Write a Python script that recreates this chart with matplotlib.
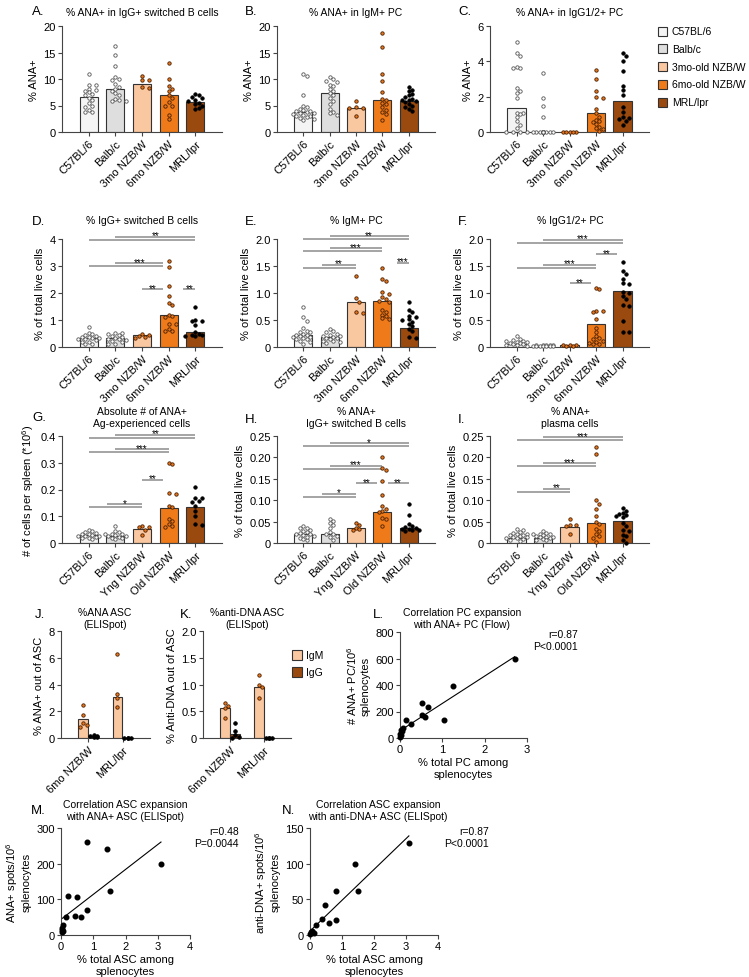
import numpy as np
import matplotlib
matplotlib.use("Agg")
import matplotlib.pyplot as plt
from matplotlib.patches import Rectangle

plt.rcParams['font.family'] = ['Liberation Sans', 'DejaVu Sans']
plt.rcParams['mathtext.default'] = 'regular'
plt.rcParams['font.size'] = 8

W, H = 749, 978

# ---- categories / labels
strains = ["C57BL/6", "Balb/c", "3mo NZB/W", "6mo NZB/W", "MRL/lpr"]
strains_age = ["C57BL/6", "Balb/c", "Yng NZB/W", "Old NZB/W", "MRL/lpr"]
legend_labels = ["C57BL/6", "Balb/c", "3mo-old NZB/W", "6mo-old NZB/W", "MRL/lpr"]
elispot_groups = ["6mo NZB/W", "MRL/lpr"]

bar_colors = ["#f4f4f4", "#dedede", "#f9c7a0", "#ef7a1a", "#9a4a0e"]
pt_face = ["white", "white", "#e8761e", "#e8761e", "black"]
pt_edge = ["#555555", "#555555", "#4a2000", "#4a2000", "black"]

# ---- A: % ANA+ in IgG+ switched B cells
a_bars = [6.6, 8.2, 9.0, 6.9, 5.7]
a_pts = [[10.9, 8.9, 8.8, 8.2, 8.0, 7.8, 7.5, 7.2, 6.9, 6.5, 6.0, 5.5, 5.0, 4.8, 4.1, 3.8, 3.7],
         [16.2, 14.6, 12.4, 10.3, 10.0, 9.8, 9.0, 8.4, 8.1, 7.8, 7.3, 6.9, 6.3, 6.0, 5.8, 5.9],
         [10.6, 9.9, 9.8, 8.4, 8.3],
         [13.0, 10.0, 8.6, 8.1, 7.8, 6.9, 6.4, 5.6, 5.0, 4.9, 3.2, 2.5],
         [7.2, 6.9, 6.6, 6.4, 6.0, 5.8, 5.5, 5.2, 5.0, 4.6, 4.3]]

# ---- B: % ANA+ in IgM+ PC
b_bars = [3.8, 7.4, 4.6, 6.1, 5.8]
b_pts = [[10.9, 10.5, 6.9, 5.0, 4.7, 4.4, 4.1, 3.9, 3.8, 3.6, 3.4, 3.3, 3.1, 3.0, 2.8, 2.5, 2.2, 2.6, 3.5, 4.0],
         [10.3, 10.0, 9.7, 9.5, 8.9, 8.6, 8.1, 7.8, 7.4, 7.0, 6.4, 5.9, 5.3, 4.4, 3.8, 3.5, 3.3],
         [5.9, 4.7, 4.6, 4.5, 3.0],
         [18.6, 16.1, 11.0, 9.6, 7.6, 6.3, 6.0, 5.5, 5.2, 4.7, 4.2, 3.8, 3.4, 2.2],
         [8.4, 8.0, 7.7, 7.2, 6.9, 6.6, 6.3, 6.0, 5.6, 5.3, 5.0, 4.7, 4.4, 3.9, 5.8, 6.1]]

# ---- C: % ANA+ in IgG1/2+ PC
c_bars = [1.35, 0.0, 0.0, 1.1, 1.75]
c_pts = [[5.1, 4.5, 4.3, 3.7, 3.6, 3.6, 2.5, 2.3, 2.2, 1.9, 1.1, 1.1, 1.0, 0.85, 0.6, 0.4, 0.2, 0, 0, 0, 0],
         [3.35, 1.95, 1.45, 0.85, 0, 0, 0, 0, 0, 0, 0, 0, 0, 0, 0, 0],
         [0, 0, 0, 0, 0],
         [3.5, 3.0, 2.3, 2.0, 1.95, 1.3, 1.05, 0.85, 0.7, 0.55, 0.45, 0.3, 0.15, 0.05, 0.6, 0.2],
         [4.5, 4.3, 4.0, 3.45, 2.6, 2.35, 2.1, 1.4, 1.15, 0.85, 0.8, 0.75, 0.65, 0.4]]

# ---- D: % IgG+ switched B cells
d_bars = [0.33, 0.32, 0.43, 1.17, 0.57]
d_pts = [[0.74, 0.53, 0.47, 0.41, 0.37, 0.35, 0.32, 0.28, 0.25, 0.2, 0.17, 0.12, 0.1, 0.3, 0.38, 0.44],
         [0.53, 0.52, 0.5, 0.41, 0.38, 0.35, 0.3, 0.25, 0.22, 0.18, 0.12, 0.1, 0.45, 0.28],
         [0.48, 0.46, 0.42, 0.38, 0.35],
         [3.2, 2.95, 2.25, 1.9, 1.64, 1.56, 1.2, 1.15, 1.1, 0.87, 0.85, 0.65, 0.6, 0.6],
         [1.5, 1.0, 0.98, 0.95, 0.82, 0.55, 0.5, 0.45, 0.42, 0.45, 0.4]]

# ---- E: % IgM+ PC
e_bars = [0.22, 0.19, 0.84, 0.85, 0.36]
e_pts = [[0.75, 0.55, 0.49, 0.36, 0.3, 0.27, 0.25, 0.22, 0.2, 0.18, 0.17, 0.15, 0.12, 0.1, 0.06, 0.23, 0.19, 0.14, 0.28],
         [0.33, 0.3, 0.27, 0.25, 0.22, 0.2, 0.19, 0.17, 0.16, 0.12, 0.11, 0.1, 0.08, 0.21, 0.14],
         [1.32, 0.9, 0.84, 0.65, 0.63],
         [1.46, 1.26, 1.22, 1.01, 0.99, 0.92, 0.89, 0.86, 0.84, 0.68, 0.65, 0.6, 0.57, 0.53, 0.51],
         [0.84, 0.68, 0.64, 0.58, 0.56, 0.51, 0.5, 0.47, 0.43, 0.39, 0.33, 0.3, 0.18, 0.17]]

# ---- F: % IgG1/2+ PC
f_bars = [0.06, 0.02, 0.03, 0.42, 1.03]
f_pts = [[0.2, 0.15, 0.13, 0.12, 0.1, 0.08, 0.07, 0.06, 0.05, 0.04, 0.03, 0.02, 0.09, 0.11],
         [0.04, 0.03, 0.03, 0.02, 0.02, 0.02, 0.01, 0.01, 0.03, 0.04, 0.02, 0.01],
         [0.04, 0.03, 0.03, 0.02, 0.02],
         [1.1, 1.07, 0.67, 0.66, 0.64, 0.51, 0.35, 0.28, 0.2, 0.17, 0.14, 0.12, 0.1, 0.08, 0.06, 0.05],
         [1.58, 1.4, 1.35, 1.26, 1.18, 1.17, 1.02, 1.0, 0.95, 0.89, 0.78, 0.76, 0.48, 0.28, 0.28]]

# ---- G: Absolute # of ANA+ Ag-experienced cells
g_bars = [0.03, 0.027, 0.052, 0.13, 0.135]
g_pts = [[0.05, 0.045, 0.04, 0.035, 0.032, 0.03, 0.028, 0.025, 0.022, 0.02, 0.018, 0.015, 0.038, 0.027],
         [0.063, 0.045, 0.04, 0.035, 0.032, 0.03, 0.026, 0.023, 0.02, 0.017, 0.014, 0.028, 0.033],
         [0.063, 0.06, 0.058, 0.05, 0.03],
         [0.3, 0.295, 0.188, 0.185, 0.14, 0.135, 0.088, 0.082, 0.072, 0.065, 0.06],
         [0.21, 0.17, 0.168, 0.157, 0.155, 0.138, 0.1, 0.07, 0.067, 0.12]]

# ---- H: % ANA+ IgG+ switched B cells
h_bars = [0.021, 0.02, 0.036, 0.073, 0.034]
h_pts = [[0.039, 0.036, 0.034, 0.031, 0.028, 0.025, 0.022, 0.02, 0.018, 0.016, 0.012, 0.009, 0.006, 0.024, 0.015],
         [0.057, 0.052, 0.047, 0.043, 0.036, 0.025, 0.022, 0.02, 0.017, 0.013, 0.008],
         [0.047, 0.042, 0.036, 0.032, 0.03],
         [0.2, 0.175, 0.17, 0.146, 0.112, 0.086, 0.079, 0.075, 0.072, 0.059, 0.055, 0.04],
         [0.091, 0.065, 0.045, 0.04, 0.037, 0.035, 0.033, 0.031, 0.03, 0.028, 0.032]]

# ---- I: % ANA+ plasma cells
i_bars = [0.012, 0.011, 0.038, 0.047, 0.052]
i_pts = [[0.032, 0.03, 0.025, 0.022, 0.02, 0.018, 0.016, 0.014, 0.012, 0.011, 0.009, 0.007, 0.005, 0.019, 0.024, 0.013],
         [0.028, 0.024, 0.022, 0.02, 0.018, 0.017, 0.015, 0.013, 0.011, 0.009, 0.007, 0.006, 0.02, 0.014],
         [0.055, 0.042, 0.041, 0.039, 0.02],
         [0.225, 0.208, 0.1, 0.092, 0.08, 0.062, 0.048, 0.044, 0.032, 0.028, 0.02, 0.016, 0.012, 0.003],
         [0.081, 0.074, 0.071, 0.067, 0.065, 0.063, 0.061, 0.047, 0.04, 0.03, 0.028, 0.019, 0.016, 0.008, 0.001]]

# ---- J / K: ELISpot, IgM vs IgG
j_igm_bars = [1.4, 3.1]
j_igg_bars = [0.15, 0.0]
j_igm_pts = [[2.45, 1.7, 1.1, 0.95, 0.85], [6.3, 3.3, 3.0, 2.3]]
j_igg_pts = [[0.2, 0.15, 0.12, 0.1, 0.05], [0.02, 0.02, 0.01, 0.0]]
k_igm_bars = [0.56, 0.95]
k_igg_bars = [0.07, 0.0]
k_igm_pts = [[0.66, 0.6, 0.56, 0.38], [1.17, 1.0, 0.96, 0.74]]
k_igg_pts = [[0.28, 0.14, 0.05, 0.02, 0.0], [0.0, 0.0, 0.0, 0.0]]

# ---- L / M / N: correlations
l_x = [2.71, 1.25, 0.51, 0.65, 0.51, 0.59, 1.04, 0.14, 0.27, 0.06, 0.045, 0.0, 0.02, 0.0, 0.03]
l_y = [600, 390, 262, 232, 170, 155, 137, 137, 105, 75, 50, 32, 20, 8, 60]
m_x = [0.82, 1.43, 3.1, 1.53, 0.22, 0.49, 0.82, 0.16, 0.42, 0.62, 0.07, 0.045, 0.045, 0.04, 0.07]
m_y = [261, 242, 200, 122, 110, 107, 71, 51, 54, 51, 27, 21, 14, 8, 10]
n_x = [3.09, 1.4, 0.81, 1.51, 0.47, 0.39, 0.6, 0.81, 0.2, 0.05, 0.12, 0.0, 0.03]
n_y = [129, 99, 61, 61, 42, 23, 17, 21, 14, 5.6, 3, 1, 4]

fig = plt.figure(figsize=(W / 100, H / 100), dpi=100)


def add_ax(x0, y0, x1, y1):
    return fig.add_axes([x0 / W, 1 - y1 / H, (x1 - x0) / W, (y1 - y0) / H])


def ftext(x, y, s, **kw):
    fig.text(x / W, 1 - y / H, s, **kw)


def style(ax):
    for s in ["top", "right"]:
        ax.spines[s].set_visible(False)
    for s in ["left", "bottom"]:
        ax.spines[s].set_color("#444444")
        ax.spines[s].set_linewidth(0.8)
    ax.tick_params(direction="out", length=3, width=0.8, color="#444444", labelsize=8, pad=1.5)


def swarm(ax, xc, vals, diam=3.6, maxw=0.42):
    vals = np.asarray(vals, float)
    t = ax.transData
    ypx = t.transform(np.column_stack([np.full(len(vals), xc), vals]))[:, 1]
    ux = t.transform((1, 0))[0] - t.transform((0, 0))[0]
    step = diam * 0.95
    cands = [0.0]
    k = 1
    while k * step <= maxw * ux:
        cands += [k * step, -k * step]
        k += 1
    placed = []
    out = np.zeros(len(vals))
    for i in np.argsort(-vals, kind="stable"):
        best, bestd = 0.0, -1.0
        for c in cands:
            d = min([np.hypot(c - px, ypx[i] - py) for px, py in placed], default=99.0)
            if d >= diam:
                best = c
                break
            if d > bestd:
                best, bestd = c, d
        out[i] = best
        placed.append((best, ypx[i]))
    return out / ux


def sig(ax, x0s, x1, y, stars):
    ymax = ax.get_ylim()[1]
    hpx = ax.get_window_extent().height
    dy = ymax * 3.0 / hpx
    for k, x0 in enumerate(x0s):
        ax.plot([x0, x1], [y + k * dy] * 2, color="#8c8c8c", lw=1.1,
                clip_on=False, zorder=1, solid_capstyle="butt")
    ytop = y + (len(x0s) - 1) * dy
    ax.annotate(stars, ((x0s[-1] + x1) / 2, ytop), xytext=(0, -1.2), textcoords="offset points",
                ha="center", va="baseline", fontsize=7, annotation_clip=False)


def bar_panel(box, ylabel, bars, pts, ymax, yticks, ytl, xlabels, sigs=()):
    ax = add_ax(*box)
    style(ax)
    ax.set_xlim(-1, 5)
    ax.set_ylim(0, ymax)
    x = np.arange(5)
    ax.bar(x, bars, width=0.68, color=bar_colors, edgecolor="#333333", linewidth=0.8, zorder=2)
    for i in range(5):
        off = swarm(ax, i, pts[i])
        ax.scatter(i + off, pts[i], s=6, facecolor=pt_face[i], edgecolor=pt_edge[i],
                   linewidth=0.6, zorder=3, clip_on=False)
    ax.set_yticks(yticks)
    ax.set_yticklabels(ytl)
    ax.set_xticks(x)
    ax.set_xticklabels(xlabels, rotation=45, ha="right", rotation_mode="anchor")
    ax.set_ylabel(ylabel, fontsize=8, labelpad=3)
    for s in sigs:
        sig(ax, *s)
    return ax


# ---------------- row 1
ints20 = [0, 5, 10, 15, 20]
bar_panel((62, 27, 222, 133), "% ANA+", a_bars, a_pts, 20, ints20, [str(v) for v in ints20], strains)
bar_panel((277, 27, 435, 133), "% ANA+", b_bars, b_pts, 20, ints20, [str(v) for v in ints20], strains)
bar_panel((490, 27, 649, 133), "% ANA+", c_bars, c_pts, 6, [0, 2, 4, 6], ["0", "2", "4", "6"], strains)
ftext(142, 13, "% ANA+ in IgG+ switched B cells", ha="center", va="center", fontsize=7.5)
ftext(356, 13, "% ANA+ in IgM+ PC", ha="center", va="center", fontsize=7.5)
ftext(570, 13, "% ANA+ in IgG1/2+ PC", ha="center", va="center", fontsize=7.5)
for lx, ly, lt in [(32, 12, "A."), (245, 12, "B."), (458, 12, "C.")]:
    ftext(lx, ly, lt, va="center", fontsize=9.5)

for k, (c, lab) in enumerate(zip(bar_colors, legend_labels)):
    yc = 32 + k * 17.8
    fig.patches.append(Rectangle((658 / W, 1 - (yc + 4.5) / H), 9 / W, 9 / H, transform=fig.transFigure,
                                 facecolor=c, edgecolor="#333333", lw=0.8))
    ftext(672, yc, lab, va="center", fontsize=7.5)

# ---------------- row 2
bar_panel((62, 240, 222, 348), "% of total live cells", d_bars, d_pts, 4, [0, 1, 2, 3, 4],
          ["0", "1", "2", "3", "4"], strains,
          [([0, 1], 4, 3.97, "**"), ([0, 1], 2.8, 3.0, "***"), ([2], 2.8, 2.14, "**"), ([3.55], 4, 2.14, "**")])
half = [0, 0.5, 1.0, 1.5, 2.0]
half_l = ["0", "0.5", "1.0", "1.5", "2.0"]
bar_panel((277, 240, 435, 348), "% of total live cells", e_bars, e_pts, 2, half, half_l, strains,
          [([0, 1], 4, 2.0, "**"), ([0, 1], 3, 1.77, "***"), ([0, 0.7], 2, 1.47, "**"), ([3.55], 4, 1.56, "***")])
bar_panel((490, 240, 649, 348), "% of total live cells", f_bars, f_pts, 2, half, half_l, strains,
          [([0, 1], 4, 1.93, "***"), ([3.0], 3.8, 1.72, "**"), ([0, 1], 3, 1.47, "***"), ([2], 2.8, 1.18, "**")])
ftext(142, 221, "% IgG+ switched B cells", ha="center", va="center", fontsize=7.5)
ftext(356, 221, "% IgM+ PC", ha="center", va="center", fontsize=7.5)
ftext(570, 221, "% IgG1/2+ PC", ha="center", va="center", fontsize=7.5)
for lx, ly, lt in [(32, 222, "D."), (245, 222, "E."), (458, 222, "F.")]:
    ftext(lx, ly, lt, va="center", fontsize=9.5)

# ---------------- row 3
bar_panel((62, 437, 222, 544), "# of cells per spleen (*10$^6$)", g_bars, g_pts, 0.4, [0, 0.1, 0.2, 0.3, 0.4],
          ["0", "0.1", "0.2", "0.3", "0.4"], strains_age,
          [([0, 1], 4, 0.394, "**"), ([0, 1], 3, 0.34, "***"), ([2], 2.8, 0.237, "**"), ([0, 0.7], 2, 0.134, "*")])
q = [0, 0.05, 0.10, 0.15, 0.20, 0.25]
q_l = ["0", "0.05", "0.10", "0.15", "0.20", "0.25"]
bar_panel((277, 437, 435, 544), "% of total live cells", h_bars, h_pts, 0.25, q, q_l, strains_age,
          [([0, 1], 4, 0.226, "*"), ([0, 1], 3, 0.174, "***"), ([2], 2.8, 0.14, "**"),
           ([3.2], 4, 0.14, "**"), ([0, 0.7], 2, 0.108, "*")])
bar_panel((490, 437, 649, 544), "% of total live cells", i_bars, i_pts, 0.25, q, q_l, strains_age,
          [([0, 1], 4, 0.24, "***"), ([0, 1], 3, 0.18, "***"), ([0, 1], 2, 0.12, "**")])
ftext(142, 418, "Absolute # of ANA+\nAg-experienced cells", ha="center", va="center", fontsize=7.5)
ftext(356, 418, "% ANA+\nIgG+ switched B cells", ha="center", va="center", fontsize=7.5)
ftext(570, 418, "% ANA+\nplasma cells", ha="center", va="center", fontsize=7.5)
for lx, ly, lt in [(32, 418, "G."), (245, 420, "H."), (458, 420, "I.")]:
    ftext(lx, ly, lt, va="center", fontsize=9.5)


# ---------------- row 4: ELISpot bars
def elispot_panel(box, ylabel, igm_b, igg_b, igm_p, igg_p, ymax, yt, ytl):
    ax = add_ax(*box)
    style(ax)
    ax.set_xlim(-0.8, 1.8)
    ax.set_ylim(0, ymax)
    x = np.arange(2)
    ax.bar(x - 0.15, igm_b, width=0.28, color="#f9c7a0", edgecolor="#333333", linewidth=0.8, zorder=2)
    ax.bar(x + 0.15, igg_b, width=0.28, color="#9a4a0e", edgecolor="#333333", linewidth=0.8, zorder=2)
    for i in range(2):
        off = swarm(ax, i - 0.15, igm_p[i], maxw=0.14)
        ax.scatter(i - 0.15 + off, igm_p[i], s=6, facecolor="#e8761e", edgecolor="#4a2000",
                   linewidth=0.6, zorder=3, clip_on=False)
        off = swarm(ax, i + 0.15, igg_p[i], maxw=0.14)
        ax.scatter(i + 0.15 + off, igg_p[i], s=7, facecolor="black", edgecolor="black",
                   linewidth=0.5, zorder=3, clip_on=False)
    ax.set_yticks(yt)
    ax.set_yticklabels(ytl)
    ax.set_xticks(x)
    ax.set_xticklabels(elispot_groups, rotation=45, ha="right", rotation_mode="anchor")
    ax.set_ylabel(ylabel, fontsize=8, labelpad=3)
    return ax


elispot_panel((61, 632, 150, 739), "% ANA+ out of ASC", j_igm_bars, j_igg_bars, j_igm_pts, j_igg_pts,
              8, [0, 2, 4, 6, 8], ["0", "2", "4", "6", "8"])
elispot_panel((203, 632, 291, 739), "% Anti-DNA out of ASC", k_igm_bars, k_igg_bars, k_igm_pts, k_igg_pts,
              2, half, half_l)
ftext(105, 619, "%ANA ASC\n(ELISpot)", ha="center", va="center", fontsize=7.5)
ftext(247, 619, "%anti-DNA ASC\n(ELISpot)", ha="center", va="center", fontsize=7.5)
for yc, c, lab in [(656, "#f9c7a0", "IgM"), (673, "#9a4a0e", "IgG")]:
    fig.patches.append(Rectangle((292 / W, 1 - (yc + 5) / H), 10 / W, 10 / H, transform=fig.transFigure,
                                 facecolor=c, edgecolor="#333333", lw=0.8))
    ftext(306, yc, lab, va="center", fontsize=7.5)


# ---------------- correlations
def corr_panel(box, xs, ys, xmax, ymax, xt, yt, xlabel, ylabel):
    ax = add_ax(*box)
    style(ax)
    ax.set_xlim(0, xmax)
    ax.set_ylim(0, ymax)
    ax.scatter(xs, ys, s=11, color="black", zorder=3, clip_on=False)
    slope, icpt = np.polyfit(xs, ys, 1)
    xx = np.array([min(xs), max(xs)])
    ax.plot(xx, slope * xx + icpt, color="black", lw=0.8, zorder=2)
    ax.set_xticks(xt)
    ax.set_yticks(yt)
    ax.set_xticklabels([str(v) for v in xt])
    ax.set_yticklabels([str(v) for v in yt])
    ax.set_xlabel(xlabel, fontsize=8, labelpad=2)
    ax.set_ylabel(ylabel, fontsize=8, labelpad=3)
    return ax


corr_panel((400, 633, 527, 739), l_x, l_y, 3, 800, [0, 1, 2, 3], [0, 200, 400, 600, 800],
           "% total PC among\nsplenocytes", "# ANA+ PC/10$^6$\nsplenocytes")
ftext(462, 619, "Correlation PC expansion\nwith ANA+ PC (Flow)", ha="center", va="center", fontsize=7.5)
ftext(578, 641, "r=0.87\nP<0.0001", ha="right", va="center", fontsize=7.5, multialignment="right")

corr_panel((61, 829, 190, 936), m_x, m_y, 4, 300, [0, 1, 2, 3, 4], [0, 100, 200, 300],
           "% total ASC among\nsplenocytes", "ANA+ spots/10$^6$\nsplenocytes")
ftext(125, 811, "Correlation ASC expansion\nwith ANA+ ASC (ELISpot)", ha="center", va="center", fontsize=7.5)
ftext(239, 838, "r=0.48\nP=0.0044", ha="right", va="center", fontsize=7.5, multialignment="right")

corr_panel((310, 829, 438, 936), n_x, n_y, 4, 150, [0, 1, 2, 3, 4], [0, 50, 100, 150],
           "% total ASC among\nsplenocytes", "anti-DNA+ spots/10$^6$\nsplenocytes")
ftext(378, 811, "Correlation ASC expansion\nwith anti-DNA+ ASC (ELISpot)", ha="center", va="center", fontsize=7.5)
ftext(489, 838, "r=0.87\nP<0.0001", ha="right", va="center", fontsize=7.5, multialignment="right")

for lx, ly, lt in [(35, 615, "J."), (180, 615, "K."), (373, 615, "L."), (31, 811, "M."), (282, 811, "N.")]:
    ftext(lx, ly, lt, va="center", fontsize=9.5)

fig.savefig("out.png", dpi=100)
